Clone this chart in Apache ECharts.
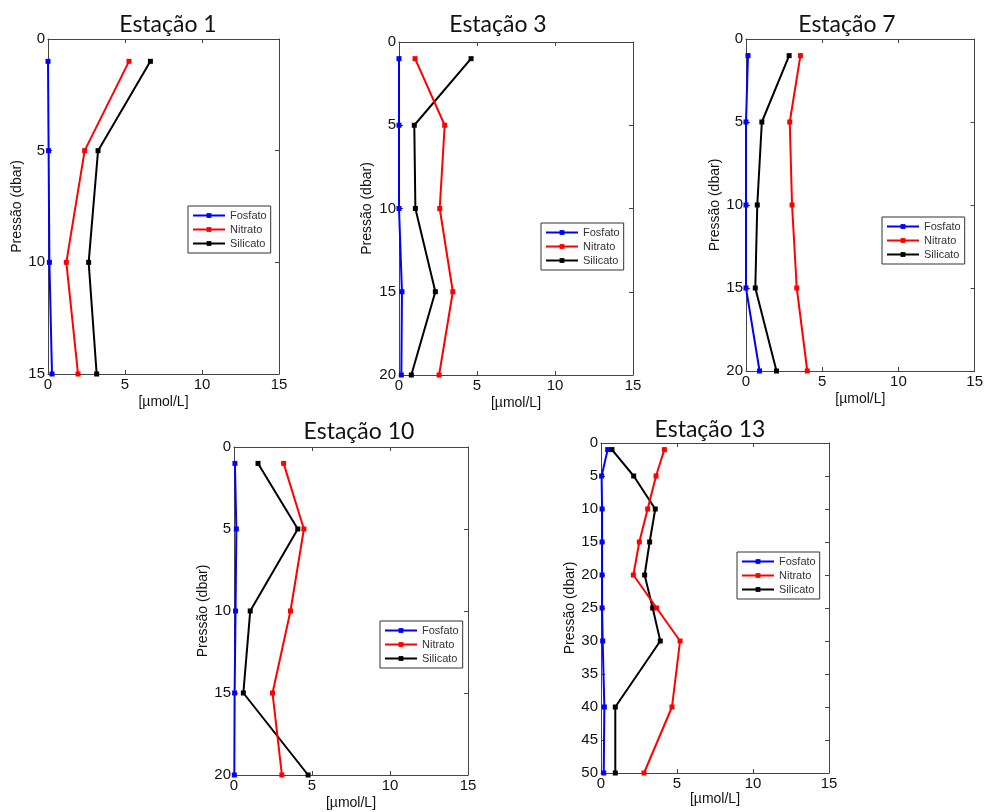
<!DOCTYPE html>
<html>
<head>
<meta charset="utf-8">
<script src="https://cdn.jsdelivr.net/npm/echarts@6/dist/echarts.min.js"></script>
<style>
  html, body { margin: 0; padding: 0; background: #fff; }
  #main { width: 986px; height: 812px; }
</style>
</head>
<body>
<div id="main"></div>
<script>
// dados
var estacoes = ['Estação 1', 'Estação 3', 'Estação 7', 'Estação 10', 'Estação 13'];
var pressao = [
    [1, 5, 10, 15],
    [1, 5, 10, 15, 20],
    [1, 5, 10, 15, 20],
    [1, 5, 10, 15, 20],
    [1, 5, 10, 15, 20, 25, 30, 40, 50]
];
var fosfato = [
    [0.0, 0.04, 0.09, 0.26],
    [0.0, 0.0, 0.0, 0.19, 0.15],
    [0.13, 0.0, 0.0, 0.0, 0.89],
    [0.06, 0.15, 0.1, 0.04, 0.02],
    [0.44, 0.04, 0.07, 0.07, 0.07, 0.07, 0.11, 0.22, 0.18]
];
var nitrato = [
    [5.26, 2.38, 1.19, 1.95],
    [1.03, 2.93, 2.61, 3.45, 2.57],
    [3.57, 2.87, 3.02, 3.33, 4.02],
    [3.18, 4.48, 3.62, 2.47, 3.07],
    [4.17, 3.62, 3.07, 2.52, 2.13, 3.66, 5.2, 4.67, 2.83]
];
var silicato = [
    [6.65, 3.25, 2.64, 3.16],
    [4.62, 0.98, 1.05, 2.33, 0.79],
    [2.83, 1.04, 0.74, 0.61, 2.0],
    [1.54, 4.09, 1.04, 0.6, 4.75],
    [0.72, 2.15, 3.57, 3.2, 2.87, 3.4, 3.9, 0.94, 0.94]
];
var pressaoMax = [15, 20, 20, 20, 50];
var nomes = ['Fosfato', 'Nitrato', 'Silicato'];
var cores = ['#0000ff', '#ff0000', '#000000'];

// posição de cada painel: [left, top, width, height]
var paineis = [
    [48, 39, 231, 335],
    [399, 42, 234, 333],
    [746, 39, 230, 332],
    [234, 447, 234, 328],
    [601, 443, 228, 330]
];
var tituloPos = [[168, 25], [498, 25], [847, 25], [359, 432], [710, 430]];
var legendaPos = [[188, 206], [541, 223], [882, 217], [380, 621], [737, 552]];
var gapY = [24, 25, 24, 24, 22];
var gapX = [21, 21, 21, 21, 14];

var chart = echarts.init(document.getElementById('main'));

var grid = [], xAxis = [], yAxis = [], series = [], legend = [], graphic = [];
var tickFont = { fontFamily: 'Liberation Sans', fontSize: 15, color: '#111' };
var eixoLinha = { show: true, onZero: false, lineStyle: { color: '#444', width: 1 } };
var eixoTick = { show: true, inside: true, length: 4, lineStyle: { color: '#444' } };

paineis.forEach(function (p, i) {
    grid.push({ left: p[0], top: p[1], width: p[2], height: p[3] });
    xAxis.push({
        type: 'value', gridIndex: i, min: 0, max: 15, interval: 5, position: 'bottom',
        name: '[µmol/L]', nameLocation: 'middle', nameGap: gapX[i],
        nameTextStyle: { fontFamily: 'Liberation Sans', fontSize: 14, color: '#111' },
        axisLine: eixoLinha, axisTick: eixoTick, splitLine: { show: false },
        axisLabel: Object.assign({ margin: 3 }, tickFont)
    });
    xAxis.push({
        type: 'value', gridIndex: i, min: 0, max: 15, interval: 5, position: 'top',
        axisLine: eixoLinha, axisTick: eixoTick, splitLine: { show: false },
        axisLabel: { show: false }
    });
    yAxis.push({
        type: 'value', gridIndex: i, min: 0, max: pressaoMax[i], interval: 5, inverse: true, position: 'left',
        name: 'Pressão (dbar)', nameLocation: 'middle', nameGap: gapY[i], nameRotate: 90,
        nameTextStyle: { fontFamily: 'Liberation Sans', fontSize: 14, color: '#111' },
        axisLine: eixoLinha, axisTick: eixoTick, splitLine: { show: false },
        axisLabel: Object.assign({ margin: 3 }, tickFont)
    });
    yAxis.push({
        type: 'value', gridIndex: i, min: 0, max: pressaoMax[i], interval: 5, inverse: true, position: 'right',
        axisLine: eixoLinha, axisTick: eixoTick, splitLine: { show: false },
        axisLabel: { show: false }
    });

    [fosfato, nitrato, silicato].forEach(function (serie, k) {
        series.push({
            name: nomes[k], type: 'line', xAxisIndex: 2 * i, yAxisIndex: 2 * i,
            data: serie[i].map(function (v, j) { return [v, pressao[i][j]]; }),
            symbol: 'rect', symbolSize: 5,
            lineStyle: { width: 2, color: cores[k] },
            itemStyle: { color: cores[k] },
            z: 3 - k
        });
    });

    legend.push({
        data: nomes, orient: 'vertical', left: legendaPos[i][0], top: legendaPos[i][1],
        itemWidth: 32, itemHeight: 6, itemGap: 3,
        padding: [4, 4, 4, 4], borderColor: '#333', borderWidth: 1, backgroundColor: '#fff',
        textStyle: { fontFamily: 'Liberation Sans', fontSize: 11, color: '#333' },
        selectedMode: false
    });

    graphic.push({
        type: 'text', x: tituloPos[i][0], y: tituloPos[i][1],
        style: { text: estacoes[i], font: '23px Lato', fill: '#111', align: 'center', verticalAlign: 'middle' }
    });
});

chart.setOption({
    animation: false,
    grid: grid,
    xAxis: xAxis,
    yAxis: yAxis,
    legend: legend,
    graphic: graphic,
    series: series
});
</script>
</body>
</html>
